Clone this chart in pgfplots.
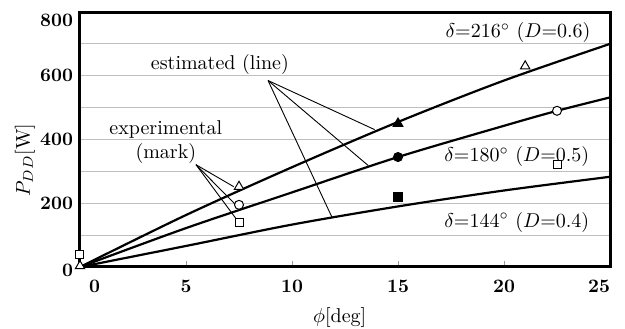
\documentclass[border=0pt]{standalone}
\usepackage{pgfplots}
\pgfplotsset{compat=1.18}
\begin{document}
\begin{tikzpicture}
\begin{axis}[
  scale only axis, width=265pt, height=127.5pt,
  xmin=0, xmax=25, ymin=0, ymax=800,
  clip=false,
  axis line style={line width=1.5pt},
  xtick={0,5,10,15,20,25},
  xticklabels={{\makebox[0pt][l]{\hspace{4.5pt}0}},5,10,15,20,{\makebox[0pt][r]{25}}},
  ytick={0,200,400,600,800},
  yticklabels={{\raisebox{-1.5pt}[6.1pt][0pt]{0}},200,400,600,{\raisebox{-4pt}[6.1pt][0pt]{800}}},
  minor ytick={100,300,500,700},
  ymajorgrids=true, yminorgrids=true,
  xtick pos=bottom, ytick pos=left,
  xtick style={draw=gray!80, line width=0.5pt},
  ytick style={draw=gray!50, line width=0.6pt},
  major grid style={draw=gray!50, line width=0.6pt},
  minor grid style={draw=gray!50, line width=0.6pt},
  major tick length=3pt, minor tick length=0pt,
  tick label style={font=\fontsize{9.5}{11}\selectfont\bfseries},
  /pgf/number format/assume math mode=true,
  xticklabel style={yshift=-3pt},
  ylabel={$P_{DD}$[W]},
  ylabel style={at={(axis description cs:-0.104,0.42)}, anchor=center, rotate=0},
  xlabel={$\phi$[deg]},
  xlabel style={at={(axis description cs:0.49,-0.2)}, anchor=center},
]
% estimated lines
\addplot[line width=1.1pt, smooth] coordinates {(0,0)(5,163)(10,313)(15,455)(20,585)(25,700)};
\addplot[line width=1.1pt, smooth] coordinates {(0,0)(5,122)(10,234)(15,345)(20,443)(22.5,490)(25,532)};
\addplot[line width=1.1pt, smooth] coordinates {(0,0)(5,66)(10,133)(15,190)(20,240)(25,283)};
% leader lines
\draw[line width=0.45pt] (axis cs:8.87,585) -- (axis cs:13.9,431);
\draw[line width=0.45pt] (axis cs:8.87,585) -- (axis cs:13.6,318);
\draw[line width=0.45pt] (axis cs:8.87,585) -- (axis cs:11.9,154);
\draw[line width=0.45pt] (axis cs:5.47,321) -- (axis cs:7.25,252);
\draw[line width=0.45pt] (axis cs:5.47,321) -- (axis cs:7.3,198);
\draw[line width=0.45pt] (axis cs:5.47,321) -- (axis cs:7.4,148);
% experimental marks (open)
\addplot[only marks, mark=triangle*, mark size=2.7pt, mark options={fill=white, draw=black, line width=0.5pt}] coordinates {(0,3)(7.5,252)(21,630)};
\addplot[only marks, mark=*, mark size=2.25pt, mark options={fill=white, draw=black, line width=0.5pt}] coordinates {(7.5,195)(22.5,490)};
\addplot[only marks, mark=square*, mark size=2pt, mark options={fill=white, draw=black, line width=0.5pt}] coordinates {(0,38)(7.5,140)(22.5,320)};
% experimental marks (filled)
\addplot[only marks, mark=triangle*, mark size=2.9pt, mark options={fill=black, draw=black}] coordinates {(15,450)};
\addplot[only marks, mark=*, mark size=2.3pt, mark options={fill=black, draw=black}] coordinates {(15,345)};
\addplot[only marks, mark=square*, mark size=2.2pt, mark options={fill=black, draw=black}] coordinates {(15,220)};
% labels
\node at (axis cs:20.66,736) {\(\delta\)=216\(^\circ\)~(\(D\)=0.6)};
\node at (axis cs:20.6,346) {\(\delta\)=180\(^\circ\)~(\(D\)=0.5)};
\node at (axis cs:20.6,141) {\(\delta\)=144\(^\circ\)~(\(D\)=0.4)};
\node at (axis cs:6.6,635) {estimated (line)};
\node[align=center] at (axis cs:4.05,393) {experimental\\(mark)};
\end{axis}
\pgfresetboundingbox
\path[use as bounding box] ([xshift=-40pt,yshift=-31pt]current axis.south west) rectangle ([xshift=7.5pt,yshift=6pt]current axis.north east);
\end{tikzpicture}
\end{document}
